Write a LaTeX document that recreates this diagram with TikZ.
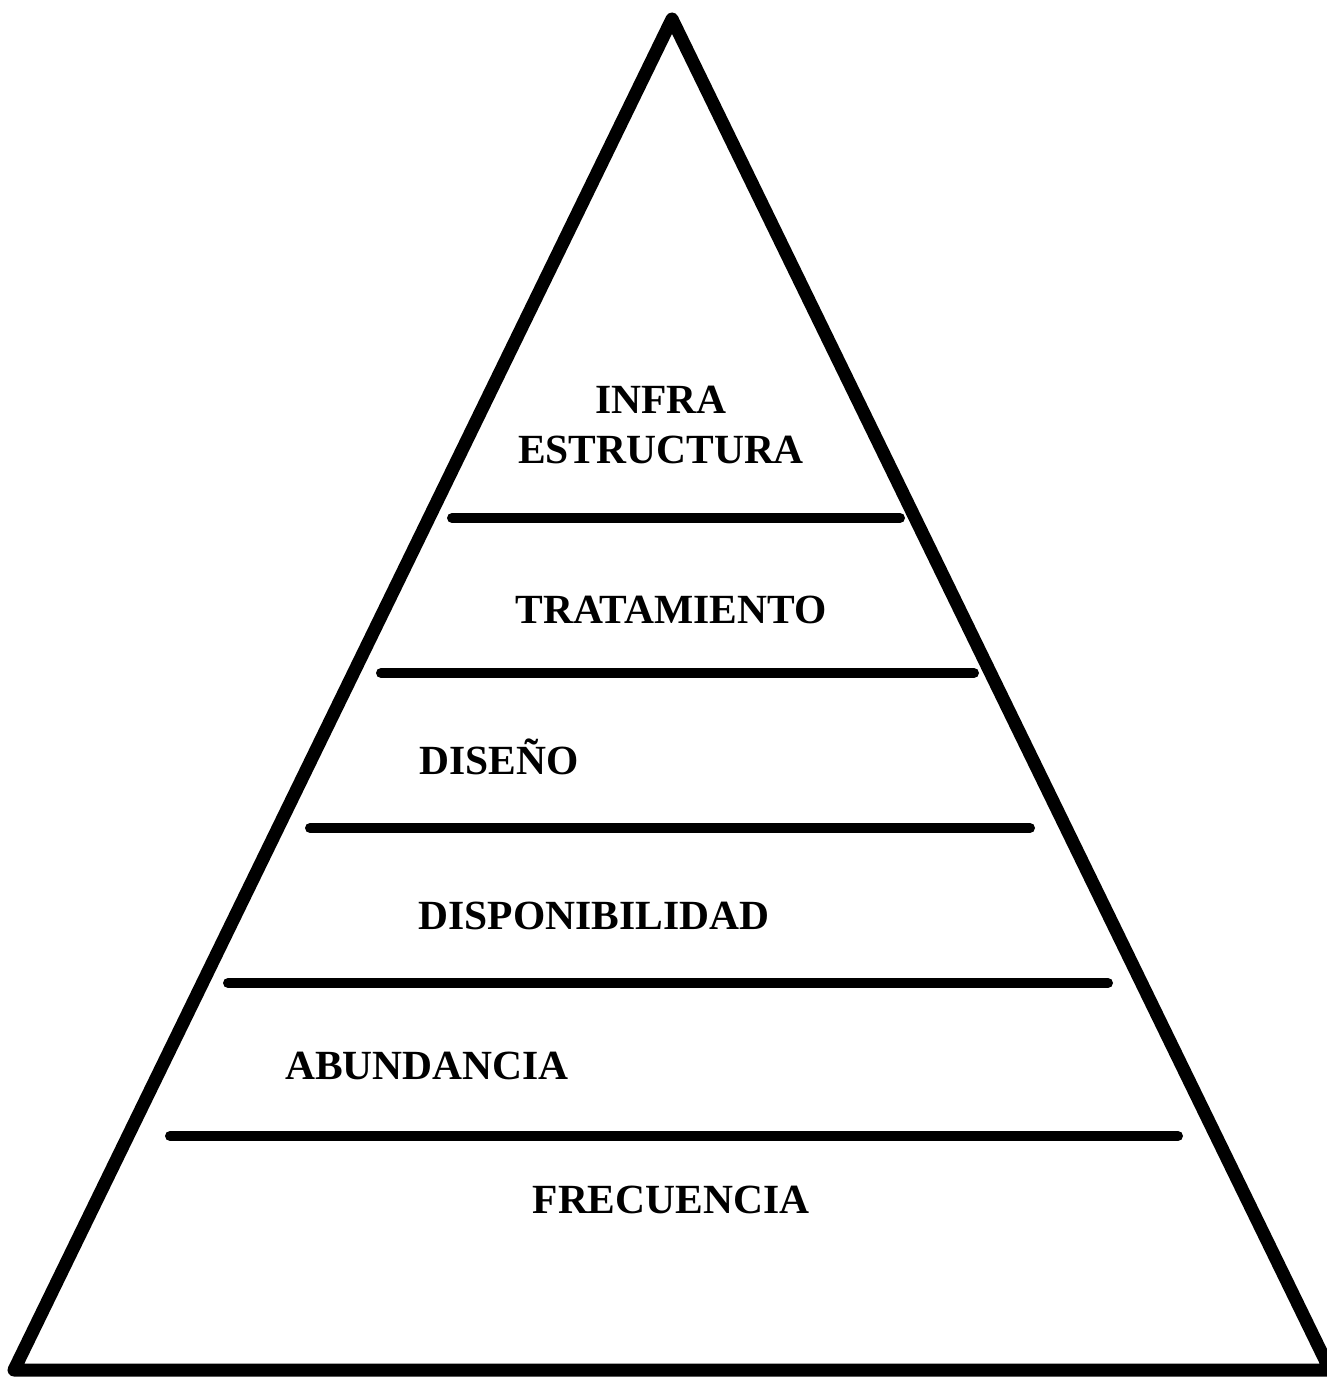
\documentclass[tikz,border=0pt]{standalone}
\usepackage{fontspec}
\setmainfont{Liberation Serif}
\usepackage{tikz}

\begin{document}
\begin{tikzpicture}[x=1pt, y=-1pt,
  level/.style={line width=10pt, line cap=round},
  label/.style={font=\fontsize{41.5}{50}\selectfont\bfseries, inner sep=0pt, align=center}]
\useasboundingbox (0,0) rectangle (1327,1378);
% pyramid outline
\draw[line width=13pt, line join=round] (672,19) -- (1330,1370) -- (14,1370) -- cycle;
% levels
\coordinate (l1a) at (452,518);  \coordinate (l1b) at (900,518);
\coordinate (l2a) at (381,673);  \coordinate (l2b) at (974,673);
\coordinate (l3a) at (310,828);  \coordinate (l3b) at (1030,828);
\coordinate (l4a) at (228,983);  \coordinate (l4b) at (1108,983);
\coordinate (l5a) at (170,1136); \coordinate (l5b) at (1178,1136);
\draw[level] (l1a) -- (l1b);
\draw[level] (l2a) -- (l2b);
\draw[level] (l3a) -- (l3b);
\draw[level] (l4a) -- (l4b);
\draw[level] (l5a) -- (l5b);
% labels
\node[label] (infra) at (661,425) {INFRA\\ESTRUCTURA};
\node[label] (trat) at (671,610) {TRATAMIENTO};
\node[label, anchor=west] (dis) at (419,757) {DISEÑO};
\node[label] (disp) at (594,916) {DISPONIBILIDAD};
\node[label] (abun) at (427,1066) {ABUNDANCIA};
\node[label] (frec) at (671,1200) {FRECUENCIA};
\end{tikzpicture}
\end{document}
